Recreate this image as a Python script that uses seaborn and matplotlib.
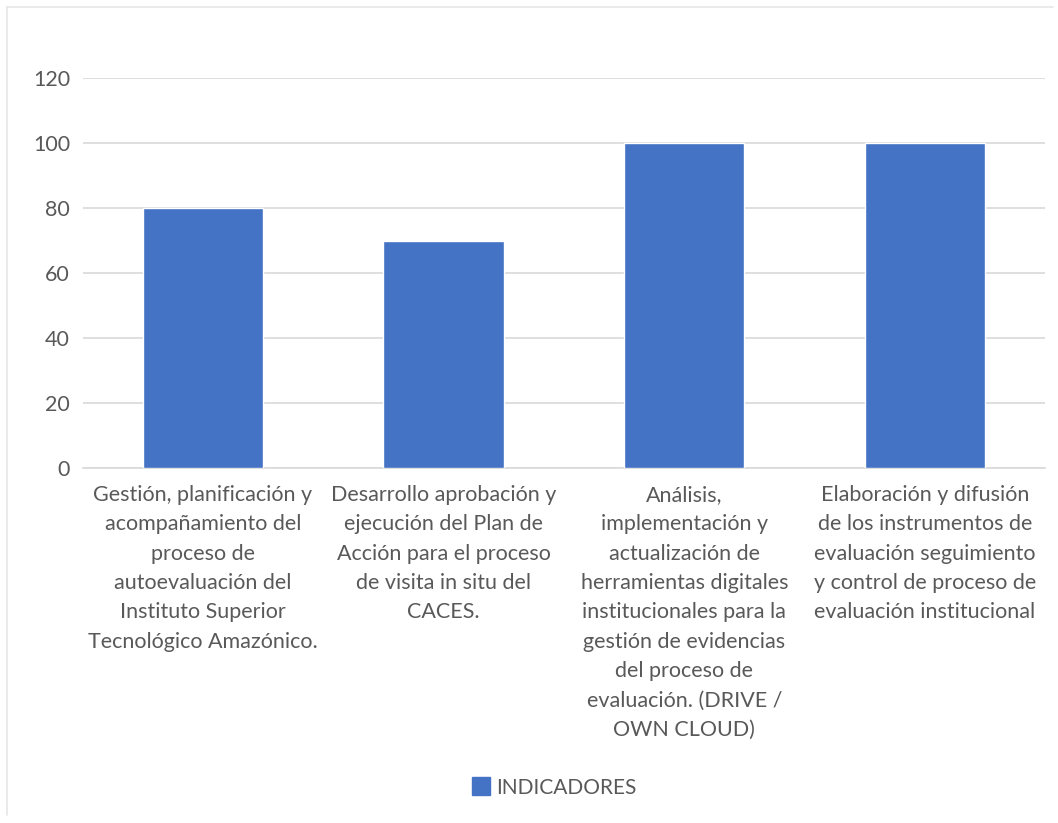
import matplotlib
matplotlib.use("Agg")
import matplotlib.pyplot as plt
import seaborn as sns
import pandas as pd
from matplotlib.lines import Line2D

categories = [
    "Gestión, planificación y\nacompañamiento del\nproceso de\nautoevaluación del\nInstituto Superior\nTecnológico Amazónico.",
    "Desarrollo aprobación y\nejecución del Plan de\nAcción para el proceso\nde visita in situ del\nCACES.",
    "Análisis,\nimplementación y\nactualización de\nherramientas digitales\ninstitucionales para la\ngestión de evidencias\ndel proceso de\nevaluación. (DRIVE /\nOWN CLOUD)",
    "Elaboración y difusión\nde los instrumentos de\nevaluación seguimiento\ny control de proceso de\nevaluación institucional",
]
values = [80, 70, 100, 100]
series_name = "INDICADORES"
yticks = [0, 20, 40, 60, 80, 100, 120]

sns.set_theme(style="white")
plt.rcParams['font.family'] = ['Lato', 'DejaVu Sans']

df = pd.DataFrame({"cat": categories, "val": values, "serie": series_name})

fig = plt.figure(figsize=(10.58, 8.23), dpi=100)
ax = fig.add_axes([0.078, 0.4313, 0.910, 0.4739])
bar_color = "#4472C4"
sns.barplot(data=df, x="cat", y="val", color=bar_color, width=0.5, ax=ax,
            saturation=1, zorder=3)
ax.set_ylim(0, 120)
ax.set_yticks(yticks)
ax.set_xlim(-0.5, len(categories) - 0.5)
ax.yaxis.grid(True, color="#D9D9D9", linewidth=1.2, zorder=0)
ax.set_axisbelow(True)
for s in ["top", "right", "left"]:
    ax.spines[s].set_visible(False)
ax.spines["bottom"].set_color("#D9D9D9")
ax.spines["bottom"].set_linewidth(1.2)
ax.set_xlabel("")
ax.set_ylabel("")
ax.tick_params(axis="y", length=0, pad=9, labelsize=15.5, labelcolor="#595959")
ax.tick_params(axis="x", length=0, pad=12, labelsize=15.5, labelcolor="#595959")
for lab in ax.get_xticklabels():
    lab.set_linespacing(1.59)
    lab.set_ha("center")

handle = Line2D([0], [0], marker="s", color="none", markerfacecolor=bar_color,
                markeredgecolor=bar_color, markersize=13)
fig.legend([handle], [series_name], loc="center", bbox_to_anchor=(0.523, 0.043),
           frameon=False, fontsize=15, labelcolor="#595959", handletextpad=0.2,
           handlelength=1.0)

# faint chart border (top/left)
fig.add_artist(Line2D([0.0066, 0.995], [0.9915, 0.9915], color="#E6E6E6", lw=1.2))
fig.add_artist(Line2D([0.0066, 0.0066], [0.01, 0.9915], color="#E6E6E6", lw=1.2))

fig.savefig("out.png", dpi=100, facecolor="white")
